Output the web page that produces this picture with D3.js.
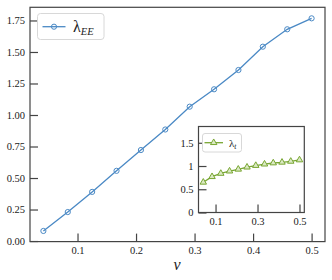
<!DOCTYPE html>
<html><head><meta charset="utf-8">
<script src="https://cdn.jsdelivr.net/npm/d3@7"></script>
<style>body{margin:0;background:#fff}svg{display:block}</style>
</head><body><svg id="c" width="332" height="280" style="font-family:'Liberation Serif','Times New Roman',serif"></svg>
<script>
const nu = [1/24,2/24,3/24,4/24,5/24,6/24,7/24,8/24,9/24,10/24,11/24,12/24];
const lambdaEE = [0.08,0.23,0.39,0.557,0.722,0.885,1.066,1.204,1.357,1.542,1.68,1.767];
const lambdaT = [0.65,0.77,0.84,0.89,0.93,0.975,1.01,1.04,1.065,1.08,1.10,1.13];
const mainXTicks = [0.1,0.2,0.3,0.4,0.5];
const mainYTicks = [0,0.25,0.5,0.75,1.0,1.25,1.5,1.75];
const insetXTicks = [0.1,0.3,0.5];
const insetYTicks = [0,0.5,1,1.5];
const insetYLabels = ["0","0.5","1","1.5"];

const FONT = "'Liberation Serif','Times New Roman',serif";
const svg = d3.select("#c");
const blue = "#4a89c5", green = "#78a632", spine = "#444";

function panel(g, x, y, xt, yt, ylab, xfmt, fs) {
  const [x0,x1] = x.range(), [y0,y1] = y.range();
  g.append("rect").attr("x",x0).attr("y",y1).attr("width",x1-x0).attr("height",y0-y1)
    .attr("fill","#fff").attr("stroke",spine).attr("stroke-width",1.2);
  const xa = g.append("g").attr("transform",`translate(0,${y0})`)
    .call(d3.axisBottom(x).tickValues(xt).tickSizeInner(-8).tickSizeOuter(0).tickPadding(5).tickFormat(xfmt));
  const ya = g.append("g").attr("transform",`translate(${x0},0)`)
    .call(d3.axisLeft(y).tickValues(yt).tickSizeInner(-8).tickSizeOuter(0).tickPadding(5).tickFormat((d,i)=>ylab[i]));
  [xa,ya].forEach(a=>{
    a.attr("font-family",null).style("font-family",FONT);
    a.select(".domain").remove();
    a.selectAll("line").attr("stroke",spine).attr("stroke-width",1.2);
    a.selectAll("text").style("font-family",FONT).attr("font-size",fs).attr("fill","#222");
  });
}

// main
const x = d3.scaleLinear().domain([0.0188,0.5229]).range([30,325]);
const y = d3.scaleLinear().domain([-0.0045,1.8545]).range([241.6,7.3]);
const gm = svg.append("g");
panel(gm, x, y, mainXTicks, mainYTicks, mainYTicks.map(d=>d.toFixed(2)), d=>d.toString(), 10.5);
const line = d3.line().x((d,i)=>x(nu[i])).y(d=>y(d));
gm.append("path").datum(lambdaEE).attr("d",line).attr("fill","none").attr("stroke",blue).attr("stroke-width",1.3);
gm.selectAll("circle.m").data(lambdaEE).join("circle").attr("cx",(d,i)=>x(nu[i])).attr("cy",d=>y(d))
  .attr("r",2.6).attr("fill","none").attr("stroke",blue).attr("stroke-width",1);
// main legend
const lg = gm.append("g");
lg.append("rect").attr("x",37.5).attr("y",13.5).attr("width",66.5).attr("height",26).attr("rx",3)
  .attr("fill","#fff").attr("stroke","#d8d8d8").attr("stroke-width",1);
lg.append("line").attr("x1",42.5).attr("x2",65.5).attr("y1",26.7).attr("y2",26.7).attr("stroke",blue).attr("stroke-width",1.3);
lg.append("circle").attr("cx",54).attr("cy",26.7).attr("r",2.6).attr("fill","none").attr("stroke",blue);
const lt = lg.append("text").attr("x",73).attr("y",31.5).attr("font-size",16).attr("fill","#222").style("font-family",FONT);
lt.append("tspan").text("λ");
lt.append("tspan").attr("font-size",10.5).attr("font-style","italic").attr("dy",3).text("EE");
// x label
svg.append("text").attr("x",177).attr("y",270).attr("text-anchor","middle").attr("font-size",16)
  .attr("font-style","italic").attr("fill","#222").style("font-family",FONT).text("ν");

// inset
const xi = d3.scaleLinear().domain([0.0188,0.5229]).range([198.5,304.3]);
const yi = d3.scaleLinear().domain([0,1.85]).range([212.5,126.5]);
const gi = svg.append("g");
panel(gi, xi, yi, insetXTicks, insetYTicks, insetYLabels, d=>d.toString(), 10.5);
const line2 = d3.line().x((d,i)=>xi(nu[i])).y(d=>yi(d));
gi.append("path").datum(lambdaT).attr("d",line2).attr("fill","none").attr("stroke",green).attr("stroke-width",1.3);
const tri = d3.symbol().type(d3.symbolTriangle).size(18);
gi.selectAll("path.t").data(lambdaT).join("path").attr("class","t")
  .attr("transform",(d,i)=>`translate(${xi(nu[i])},${yi(d)})`).attr("d",tri())
  .attr("fill","#dbe9c4").attr("stroke",green).attr("stroke-width",1);
const il = gi.append("g");
il.append("rect").attr("x",202.5).attr("y",133.5).attr("width",39).attr("height",18.5).attr("rx",2.5)
  .attr("fill","#fff").attr("stroke","#d8d8d8").attr("stroke-width",1);
il.append("line").attr("x1",204.5).attr("x2",223).attr("y1",142.7).attr("y2",142.7).attr("stroke",green).attr("stroke-width",1.3);
il.append("path").attr("transform","translate(213.7,142.7)").attr("d",tri()).attr("fill","#dbe9c4").attr("stroke",green);
const it = il.append("text").attr("x",229).attr("y",146.5).attr("font-size",11).attr("fill","#222").style("font-family",FONT);
it.append("tspan").text("λ");
it.append("tspan").attr("font-size",7.5).attr("font-style","italic").attr("dy",2).text("t");
</script></body></html>
